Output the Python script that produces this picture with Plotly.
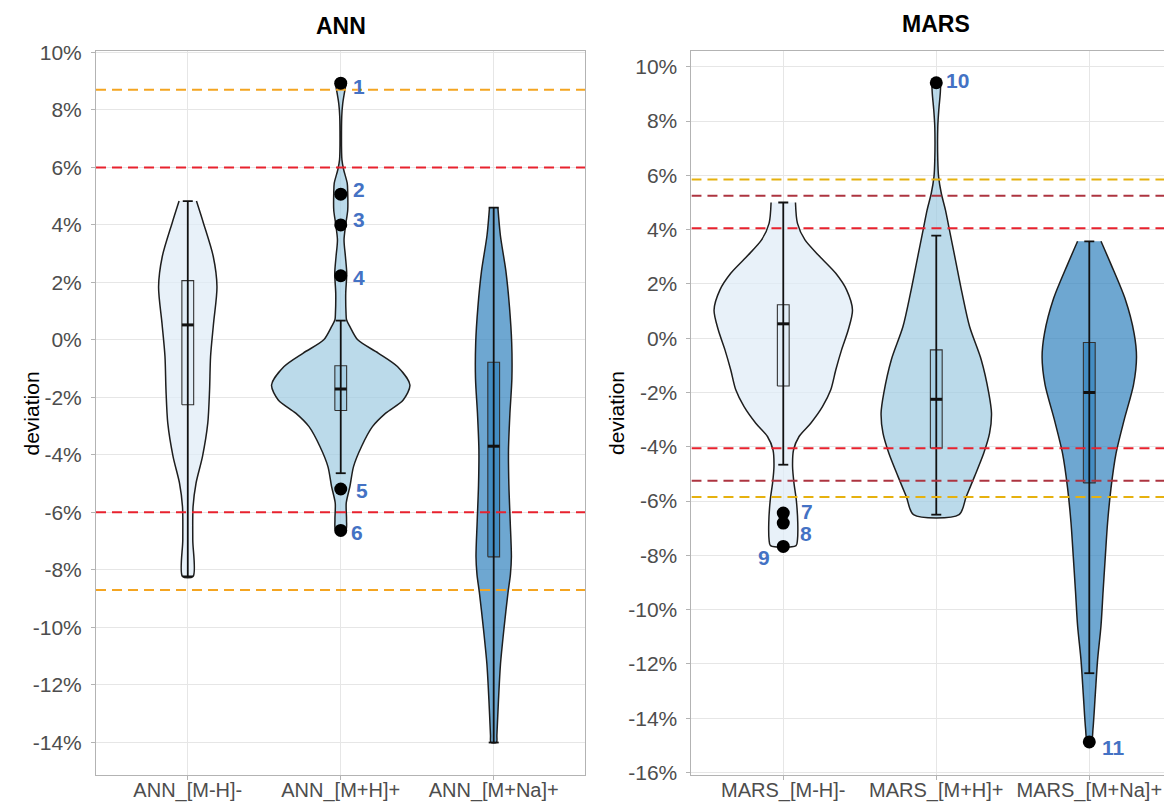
import plotly.graph_objects as go
import numpy as np

# ---------------- data ----------------
ann_cats = ["ANN_[M-H]-", "ANN_[M+H]+", "ANN_[M+Na]+"]
mars_cats = ["MARS_[M-H]-", "MARS_[M+H]+", "MARS_[M+Na]+"]

# violin density profiles: deviation (%) and measured half-width
ann_mh_y = [4.83, 4.06, 2.90, 1.85, 0.58, -0.58, -1.74, -2.90, -4.06, -4.98, -5.80, -6.96, -8.23]
ann_mh_w = [8.7, 15.7, 25.5, 29.2, 25.8, 22.8, 21.8, 20.0, 14.7, 8.3, 5.3, 5.0, 5.3]

ann_mhp_y = [8.93, 8.70, 8.23, 7.77, 6.26, 5.91, 5.45, 5.10, 4.52, 4.06, 3.48, 2.90, 2.32, 1.62,
             0.93, 0.70, 0.46, 0.00, -0.46, -0.93, -1.57, -2.09, -2.55, -3.02, -3.71, -4.41,
             -5.10, -5.68, -6.26, -6.63]
ann_mhp_w = [5.5, 4.2, 2.0, 1.0, 1.2, 3.0, 6.5, 7.0, 7.0, 5.2, 3.3, 4.7, 6.0, 5.0,
             5.3, 5.8, 9.2, 17.0, 37.5, 56.7, 69.2, 62.5, 45.0, 31.7, 20.8, 12.8,
             9.2, 5.5, 5.8, 5.0]

ann_mna_y = [4.60, 3.63, 2.39, 1.14, -0.10, -1.34, -2.58, -3.83, -5.07, -6.31, -7.55, -8.17,
             -8.80, -10.04, -11.28, -12.52, -13.76, -14.01]
ann_mna_w = [4.2, 6.7, 12.2, 15.8, 18.0, 18.2, 16.2, 14.8, 15.2, 16.5, 17.7, 16.7,
             14.3, 10.3, 6.8, 4.8, 3.2, 2.8]

mars_mh_y = [5.00, 4.23, 3.62, 3.00, 2.39, 1.78, 1.04, 0.31, -0.43, -1.17, -1.90, -2.52,
             -3.13, -3.62, -4.11, -4.73, -5.34, -5.95, -6.81, -7.42, -7.64]
mars_mh_w = [12.2, 14.2, 21.7, 36.7, 52.5, 63.3, 69.2, 65.0, 58.3, 52.5, 47.5, 39.2,
             27.5, 15.8, 10.3, 9.3, 10.7, 13.0, 14.5, 14.2, 12.8]

mars_mhp_y = [9.41, 9.02, 8.40, 7.79, 6.56, 5.95, 5.34, 4.72, 4.11, 2.88, 1.66, 0.43,
              -0.80, -2.02, -2.76, -3.50, -4.23, -5.09, -5.83, -6.50]
mars_mhp_w = [4.5, 4.0, 2.5, 1.5, 1.5, 2.3, 5.0, 9.2, 12.5, 19.2, 25.8, 33.3,
              45.0, 52.5, 55.2, 53.3, 47.5, 38.3, 30.0, 22.8]

mars_mna_y = [3.57, 2.72, 1.45, 0.18, -0.70, -1.72, -2.99, -4.25, -5.52, -6.79, -8.05,
              -9.32, -10.59, -11.85, -13.12, -14.39, -14.87]
mars_mna_w = [11.7, 21.7, 35.8, 44.8, 47.2, 44.2, 35.0, 26.7, 21.7, 18.3, 16.0,
              13.8, 11.7, 8.3, 6.0, 3.7, 2.0]

# box statistics (%)
ann_q1 = [-2.26, -2.46, -7.55]
ann_med = [0.52, -1.71, -3.70]
ann_q3 = [2.06, -0.90, -0.78]
ann_lo = [-8.23, -4.64, -14.01]
ann_hi = [4.83, 0.67, 4.60]

mars_q1 = [-1.76, -4.05, -5.33]
mars_med = [0.53, -2.25, -2.00]
mars_q3 = [1.23, -0.43, -0.16]
mars_lo = [-4.66, -6.50, -12.34]
mars_hi = [5.00, 3.78, 3.57]

# outliers: category index, value, label
ann_out_cat = [2, 2, 2, 2, 2, 2]
ann_out_val = [8.93, 5.07, 4.00, 2.23, -5.19, -6.63]
ann_out_lab = ["1", "2", "3", "4", "5", "6"]

mars_out_cat = [1, 1, 1, 2, 3]
mars_out_val = [-6.44, -6.81, -7.67, 9.41, -14.87]
mars_out_lab = ["7", "8", "9", "10", "11"]

# threshold lines (%)
ann_thr = [8.7, 6.0, -6.0, -8.7]
mars_thr = [5.85, 5.25, 4.05, -4.05, -5.25, -5.85]

# ---------------- styling ----------------
FILLS = ["rgba(222,235,247,0.7)", "rgba(158,202,225,0.7)", "rgba(49,130,189,0.7)"]
ann_thr_col = ["#F4A521", "#E8222E", "#E8222E", "#F4A521"]
mars_thr_col = ["#E6B10E", "#AD3440", "#E8222E", "#E8222E", "#AD3440", "#E6B10E"]
ann_lab_shift = [(18, -3), (18, 5), (18, 5), (18, -2), (21, -1), (16, -2)]
mars_lab_shift = [(24, 2), (23, -10), (-19, -11), (21, 2), (24, -6)]

PX_PER_CAT = 153.0
BOX_HALF = 5.9 / PX_PER_CAT
CAP_HALF = 5.0 / PX_PER_CAT
FONT = "Liberation Sans, Arial, sans-serif"
LAB_COLOR = "#4472C4"

fig = go.Figure()

panels = [
    dict(xa="x", ya="y", cats=ann_cats,
         prof=[(ann_mh_y, ann_mh_w), (ann_mhp_y, ann_mhp_w), (ann_mna_y, ann_mna_w)],
         q1=ann_q1, med=ann_med, q3=ann_q3, lo=ann_lo, hi=ann_hi,
         oc=ann_out_cat, ov=ann_out_val, ol=ann_out_lab, shifts=ann_lab_shift,
         thr=ann_thr, thrc=ann_thr_col, xr=[0.4, 3.6]),
    dict(xa="x2", ya="y2", cats=mars_cats,
         prof=[(mars_mh_y, mars_mh_w), (mars_mhp_y, mars_mhp_w), (mars_mna_y, mars_mna_w)],
         q1=mars_q1, med=mars_med, q3=mars_q3, lo=mars_lo, hi=mars_hi,
         oc=mars_out_cat, ov=mars_out_val, ol=mars_out_lab, shifts=mars_lab_shift,
         thr=mars_thr, thrc=mars_thr_col, xr=[0.4, 3.6]),
]

annotations = []
for p in panels:
    xa, ya = p["xa"], p["ya"]
    for i, (yy, ww) in enumerate(p["prof"]):
        c = i + 1
        yy = np.array(yy)
        ww = np.array(ww) / PX_PER_CAT
        xs = np.concatenate([c + ww, (c - ww)[::-1]])
        ys = np.concatenate([yy, yy[::-1]])
        fig.add_trace(go.Scatter(x=xs, y=ys, xaxis=xa, yaxis=ya, mode="lines",
                                 fill="toself", fillcolor=FILLS[i],
                                 line=dict(color="#1E1E1E", width=1.5, shape="spline", smoothing=0.8),
                                 hoverinfo="skip", showlegend=False))
    for i in range(3):
        c = i + 1
        q1, q3, md, lo, hi = p["q1"][i], p["q3"][i], p["med"][i], p["lo"][i], p["hi"][i]
        fig.add_trace(go.Scatter(x=[c - BOX_HALF, c + BOX_HALF, c + BOX_HALF, c - BOX_HALF, c - BOX_HALF],
                                 y=[q1, q1, q3, q3, q1], xaxis=xa, yaxis=ya, mode="lines",
                                 fill="toself", fillcolor=FILLS[i],
                                 line=dict(color="#333333", width=1.1),
                                 hoverinfo="skip", showlegend=False))
        fig.add_trace(go.Scatter(x=[c, c, None, c - CAP_HALF, c + CAP_HALF, None, c - CAP_HALF, c + CAP_HALF],
                                 y=[lo, hi, None, lo, lo, None, hi, hi], xaxis=xa, yaxis=ya,
                                 mode="lines", line=dict(color="#111111", width=1.8),
                                 hoverinfo="skip", showlegend=False))
        fig.add_trace(go.Scatter(x=[c - BOX_HALF, c + BOX_HALF], y=[md, md], xaxis=xa, yaxis=ya,
                                 mode="lines", line=dict(color="#111111", width=3),
                                 hoverinfo="skip", showlegend=False))
    for v, col in zip(p["thr"], p["thrc"]):
        fig.add_trace(go.Scatter(x=[p["xr"][0], p["xr"][1]], y=[v, v], xaxis=xa, yaxis=ya,
                                 mode="lines", line=dict(color=col, width=2, dash="10px,6px"),
                                 hoverinfo="skip", showlegend=False))
    fig.add_trace(go.Scatter(x=p["oc"], y=p["ov"], xaxis=xa, yaxis=ya, mode="markers",
                             marker=dict(color="black", size=13),
                             hoverinfo="skip", showlegend=False))
    for cx, v, lab, (dx, dy) in zip(p["oc"], p["ov"], p["ol"], p["shifts"]):
        annotations.append(dict(x=cx, y=v, xref=xa, yref=ya, text="<b>%s</b>" % lab,
                                showarrow=False, xshift=dx, yshift=dy,
                                font=dict(family=FONT, size=21, color=LAB_COLOR)))

annotations.append(dict(x=2, y=1.0345, xref="x", yref="paper", text="<b>ANN</b>", showarrow=False,
                        yanchor="middle", font=dict(family=FONT, size=23, color="black")))
annotations.append(dict(x=2, y=1.037, xref="x2", yref="paper", text="<b>MARS</b>", showarrow=False,
                        yanchor="middle", font=dict(family=FONT, size=23, color="black")))
annotations.append(dict(x=-0.0725, y=0.5, xref="paper", yref="paper", text="deviation", showarrow=False,
                        textangle=-90, font=dict(family=FONT, size=21, color="black")))
annotations.append(dict(x=0.4833, y=0.5, xref="paper", yref="paper", text="deviation", showarrow=False,
                        textangle=-90, font=dict(family=FONT, size=21, color="black")))

GRID = "#E6E6E6"
BORDER = "#B3B3B3"
tickfont = dict(family=FONT, size=21, color="#4D4D4D")
xtickfont = dict(family=FONT, size=20, color="#4D4D4D")
ax_common = dict(showgrid=True, gridcolor=GRID, gridwidth=1, zeroline=False,
                 ticks="outside", ticklen=4, tickcolor=BORDER,
                 showline=True, linecolor=BORDER, linewidth=1, automargin=False)

yt = list(range(-16, 11, 2))
# the page adds an 8px body margin, so the figure is offset by (8, 8)
fig.update_layout(
    width=1164, height=800,
    margin=dict(l=88, r=0, t=43, b=33),
    plot_bgcolor="white", paper_bgcolor="white",
    showlegend=False,
    annotations=annotations,
    xaxis=dict(domain=[0, 0.4549], range=[0.4, 3.6], tickvals=[1, 2, 3], ticktext=ann_cats,
               mirror=True, anchor="y", ticklabelstandoff=-7, tickfont=xtickfont, **ax_common),
    yaxis=dict(domain=[0, 1], range=[-15.14, 10.05], tickvals=yt, ticktext=["%d%%" % v for v in yt],
               mirror=True, anchor="x", ticklabelstandoff=5, tickfont=tickfont, **ax_common),
    xaxis2=dict(domain=[0.5534, 1], range=[0.4, 0.4 + (1172 - 691.5) / PX_PER_CAT],
                tickvals=[1, 2, 3], ticktext=mars_cats, mirror=True, anchor="y2",
                ticklabelstandoff=-7, tickfont=xtickfont, **ax_common),
    yaxis2=dict(domain=[0, 1], range=[-16.09, 10.58], tickvals=yt, ticktext=["%d%%" % v for v in yt],
                mirror=False, anchor="x2", ticklabelstandoff=5, tickfont=tickfont, **ax_common),
)

fig.write_html("out.html")
